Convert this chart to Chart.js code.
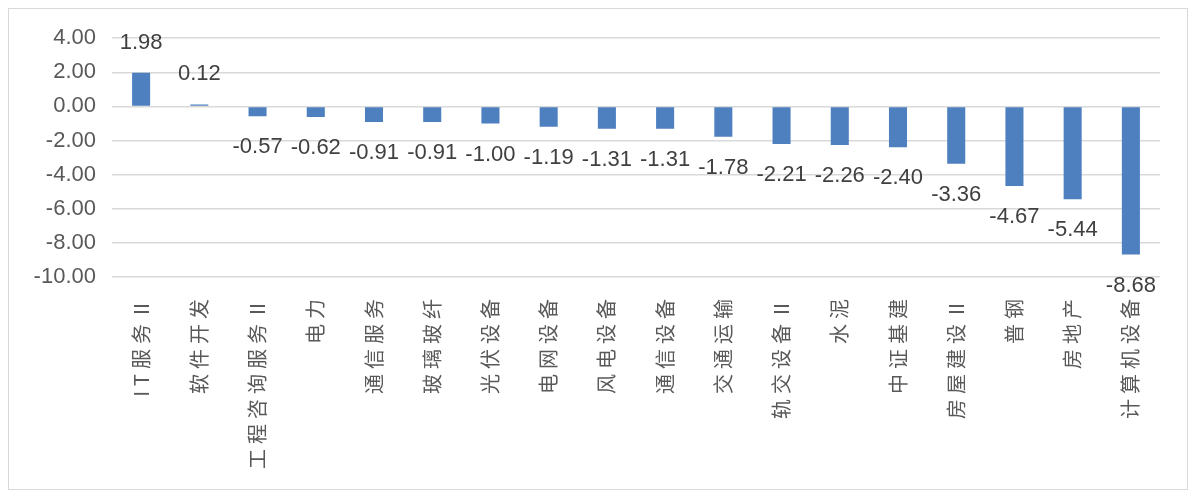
<!DOCTYPE html>
<html>
<head>
<meta charset="utf-8">
<script src="https://cdn.jsdelivr.net/npm/chart.js@4/dist/chart.umd.min.js"></script>
<style>
  html, body { margin: 0; padding: 0; background: #fff; }
  #box {
    position: absolute; left: 8px; top: 8px;
    width: 1178px; height: 480px;
    border: 1px solid #d9d9d9;
  }
</style>
</head>
<body>
<div id="box"><canvas id="grafico" width="1178" height="480"></canvas></div>
<script>
const categorias = [
  "IT服务Ⅱ", "软件开发", "工程咨询服务Ⅱ", "电力", "通信服务", "玻璃玻纤",
  "光伏设备", "电网设备", "风电设备", "通信设备", "交通运输", "轨交设备Ⅱ",
  "水泥", "中证基建", "房屋建设Ⅱ", "普钢", "房地产", "计算机设备"
];
const valores = [
  1.98, 0.12, -0.57, -0.62, -0.91, -0.91, -1.00, -1.19, -1.31, -1.31,
  -1.78, -2.21, -2.26, -2.40, -3.36, -4.67, -5.44, -8.68
];
const ejeY = { min: -10, max: 4, paso: 2 };

// etiquetas de valor encima/debajo de cada barra
const etiquetas = {
  id: "etiquetas",
  afterDatasetsDraw(chart) {
    const ctx = chart.ctx;
    const meta = chart.getDatasetMeta(0);
    ctx.save();
    ctx.font = '22px "Liberation Sans", Arial, sans-serif';
    ctx.fillStyle = "#404040";
    ctx.textAlign = "center";
    ctx.textBaseline = "middle";
    meta.data.forEach((bar, i) => {
      const v = valores[i];
      const y = bar.y + (v < 0 ? 31 : -30);
      ctx.fillText(v.toFixed(2), bar.x, y);
    });
    ctx.restore();
  }
};

// espaciado entre caracteres en las etiquetas del eje x
const espaciado = {
  id: "espaciado",
  afterLayout(chart) {
    const sc = chart.scales.x;
    if (sc._parcheado) return;
    const orig = sc.drawLabels.bind(sc);
    sc.drawLabels = function (area) {
      const ctx = this.ctx;
      ctx.save();
      ctx.letterSpacing = "5px";
      orig(area);
      ctx.restore();
    };
    sc._parcheado = true;
  }
};

new Chart(document.getElementById("grafico"), {
  type: "bar",
  data: {
    labels: categorias,
    datasets: [{
      data: valores,
      backgroundColor: "#4e7fbf",
      barPercentage: 0.62,
      categoryPercentage: 0.5
    }]
  },
  options: {
    responsive: false,
    animation: false,
    layout: { padding: { left: 0, right: 27, top: 29, bottom: 0 } },
    plugins: {
      legend: { display: false },
      tooltip: { enabled: false }
    },
    scales: {
      x: {
        grid: { display: false },
        border: { display: false },
        afterFit(scale) { scale.height = 212; },
        ticks: {
          minRotation: 90,
          maxRotation: 90,
          autoSkip: false,
          padding: 9,
          color: "#595959",
          font: { family: '"Noto Sans CJK SC", sans-serif', size: 20 }
        }
      },
      y: {
        min: ejeY.min,
        max: ejeY.max,
        afterFit(scale) { scale.width = 103; },
        grid: { color: "#d9d9d9", lineWidth: 1.5, drawTicks: false },
        border: { display: false },
        ticks: {
          stepSize: ejeY.paso,
          padding: 16,
          color: "#595959",
          font: { family: '"Liberation Sans", Arial, sans-serif', size: 22 },
          callback: v => v.toFixed(2)
        }
      }
    }
  },
  plugins: [etiquetas, espaciado]
});
</script>
</body>
</html>
